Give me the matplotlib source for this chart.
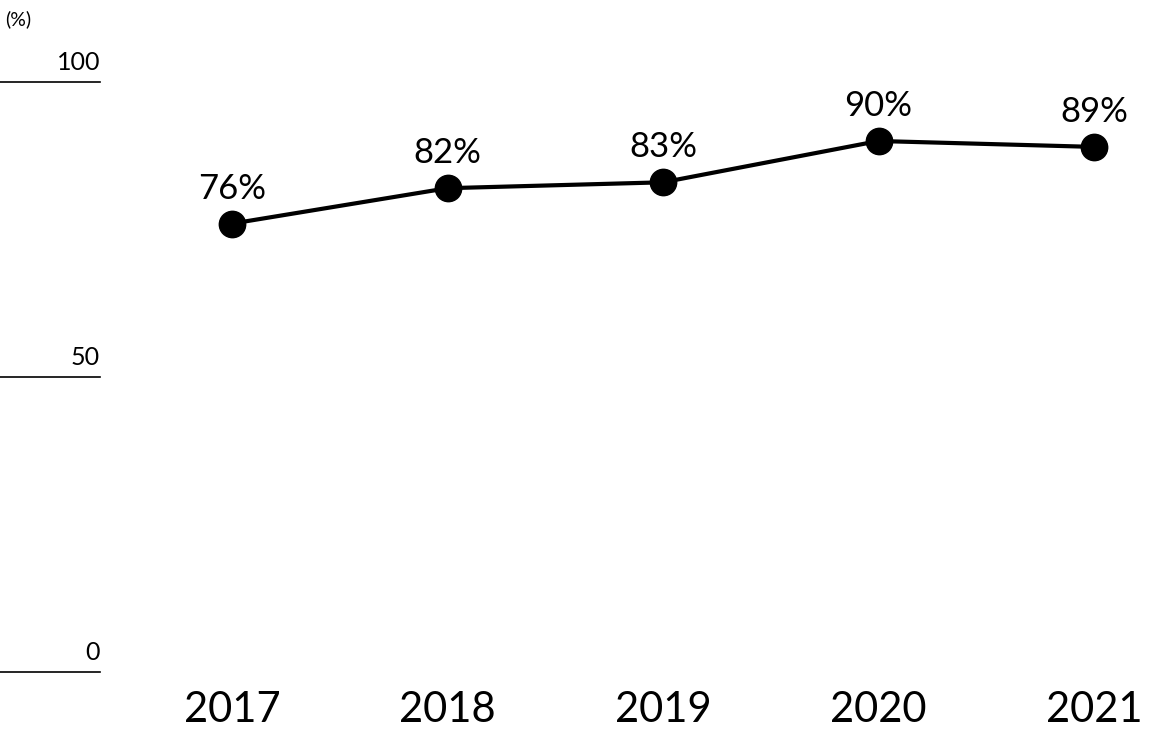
import matplotlib
matplotlib.use("Agg")
import matplotlib.pyplot as plt

years = ["2017", "2018", "2019", "2020", "2021"]
values = [76, 82, 83, 90, 89]
y_ticks = [0, 50, 100]

W, H = 1173, 736
fig = plt.figure(figsize=(W / 100, H / 100), dpi=100)
ax = fig.add_axes([0, 0, 1, 1])
ax.axis("off")

# pixel mapping: x index 0 -> 232px, 4 -> 1094px ; y 0 -> 672px, 100 -> 82px
xs = (1094 - 232) / 4
ax.set_xlim(-232 / xs, 4 + (W - 1094) / xs)
ys = (672 - 82) / 100
ax.set_ylim(-(H - 672) / ys, 100 + 82 / ys)

x0 = -232 / xs
x1 = x0 + 100 / xs
font = "Lato"
for t in y_ticks:
    ax.plot([x0, x1], [t, t], color="black", lw=1.2)
    ax.text(x1, t + 1.3, str(t), ha="right", va="bottom", fontsize=18,
            family=font, color="black")
ax.text(x0 + 5 / xs, 100 + 72 / ys, "(%)", ha="left", va="top", fontsize=14,
        family=font, color="black")

idx = list(range(len(years)))
ax.plot(idx, values, color="black", lw=3, marker="o", ms=19, zorder=3)
for i, v in zip(idx, values):
    ax.text(i, v + 3.2, f"{v}%", ha="center", va="bottom", fontsize=25, family=font)
    ax.text(i, -(710 - 672) / ys, years[i], ha="center", va="center",
            fontsize=30, family=font, color="black")

fig.savefig("out.png", dpi=100)
